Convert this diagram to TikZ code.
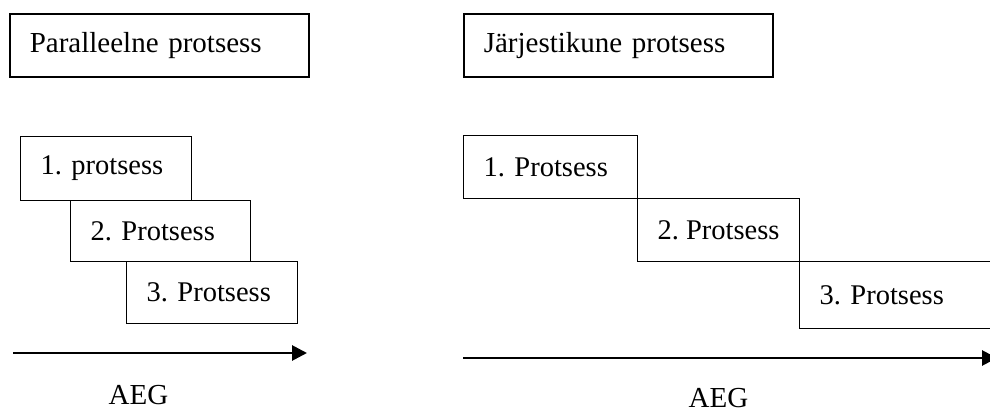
\documentclass[tikz,border=0pt]{standalone}
\usepackage{fontspec}
\setmainfont{Liberation Serif}
\frenchspacing
\hyphenpenalty=10000
\usetikzlibrary{arrows.meta, positioning}

\tikzset{
  titlebox/.style={draw, line width=1.6pt, anchor=north west, minimum height=63pt,
    inner xsep=20pt, align=left, font=\fontsize{29}{33}\selectfont},
  procbox/.style={draw, line width=1.2pt, anchor=north west,
    inner xsep=20pt, align=left, font=\fontsize{28.5}{33}\selectfont},
  timeline/.style={line width=2.8pt, -{Triangle[length=15pt,width=15pt]}},
  timelabel/.style={font=\fontsize{29}{33}\selectfont}
}

\begin{document}
\begin{tikzpicture}[x=1pt,y=-1pt]
\useasboundingbox (0,0) rectangle (990,411);

\node[titlebox, text width=259pt] (titleL) at (9,13) {Paralleelne protsess};
\node[procbox, text width=131pt, minimum height=64pt] (pL1) at (20,136) {1. protsess};
\node[procbox, text width=140pt, minimum height=61pt] (pL2) at (70,200) {2. Protsess};
\node[procbox, text width=131pt, minimum height=62pt] (pL3) at (126,261) {3. Protsess};

\coordinate (tL0) at (13,353);
\coordinate (tL1) at (307,353);
\draw[timeline] (tL0) -- (tL1);
\node[timelabel] (aegL) at (138.5,395) {AEG};

\node[titlebox, text width=269pt] (titleR) at (463,13) {Järjestikune protsess};
\node[procbox, text width=134pt, minimum height=63pt] (pR1) at (463,135) {1. Protsess};
\node[procbox, minimum width=162pt, minimum height=63pt] (pR2) at (637,198) {2. Protsess};
\node[procbox, text width=162pt, minimum height=67pt] (pR3) at (799,261) {3. Protsess};

\coordinate (tR0) at (463,358);
\coordinate (tR1) at (997,358);
\draw[timeline] (tR0) -- (tR1);
\node[timelabel] (aegR) at (718.5,398) {AEG};

\end{tikzpicture}
\end{document}
